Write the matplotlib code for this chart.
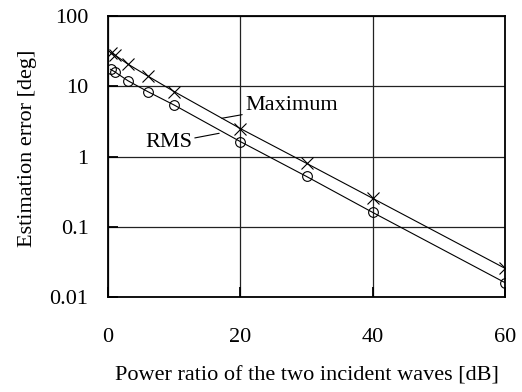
import matplotlib
matplotlib.use("Agg")
import matplotlib.pyplot as plt

plt.rcParams['font.family'] = ['Liberation Serif', 'DejaVu Serif']
plt.rcParams['font.size'] = 16

power_ratio_db = [0.4, 1, 3, 6, 10, 20, 30, 40, 60]
maximum_err = [30, 28, 20.7, 14, 8.4, 2.5, 0.8, 0.254, 0.0256]
rms_err = [17.4, 16.1, 12, 8.4, 5.4, 1.63, 0.52, 0.16, 0.016]
x_ticks = [0, 20, 40, 60]
y_ticks = [0.01, 0.1, 1, 10, 100]
y_tick_labels = ['0.01', '0.1', '1', '10', '100']

fig = plt.figure(figsize=(5.22, 3.92), dpi=100)
ax = fig.add_axes([108/522, 1 - 297/392, (505-108)/522, (297-16)/392])

ax.plot(power_ratio_db, maximum_err, color='black', lw=0.8, marker='x',
        markersize=8, markeredgewidth=0.8)
ax.plot(power_ratio_db, rms_err, color='black', lw=0.8, marker='o',
        markersize=7, markerfacecolor='none', markeredgewidth=0.8)

ax.set_yscale('log')
ax.set_xlim(0, 60)
ax.set_ylim(0.01, 100)
ax.set_xticks(x_ticks)
ax.set_yticks(y_ticks)
ax.set_yticklabels(y_tick_labels)
ax.minorticks_off()
ax.grid(True, which='major', color='#222222', lw=0.9)
ax.set_axisbelow(True)
for s in ax.spines.values():
    s.set_linewidth(1.3)
    s.set_color('black')
ax.tick_params(axis='both', direction='in', length=7, width=1.3)
ax.tick_params(axis='x', pad=22)
ax.tick_params(axis='y', pad=14)

ax.set_xlabel('Power ratio of the two incident waves [dB]', labelpad=14)
ax.set_ylabel('Estimation error [deg]')
ax.yaxis.set_label_coords(-0.18, 0.53)

ax.annotate('Maximum', xy=(17.2, 3.5), xytext=(20.7, 5.24),
            va='center', ha='left',
            arrowprops=dict(arrowstyle='-', color='black', lw=0.8,
                            shrinkA=0, shrinkB=0))
ax.annotate('RMS', xy=(16.8, 2.14), xytext=(12.7, 1.56),
            va='center', ha='right',
            arrowprops=dict(arrowstyle='-', color='black', lw=0.8,
                            shrinkA=0, shrinkB=0))

fig.savefig('out.png', dpi=100)
